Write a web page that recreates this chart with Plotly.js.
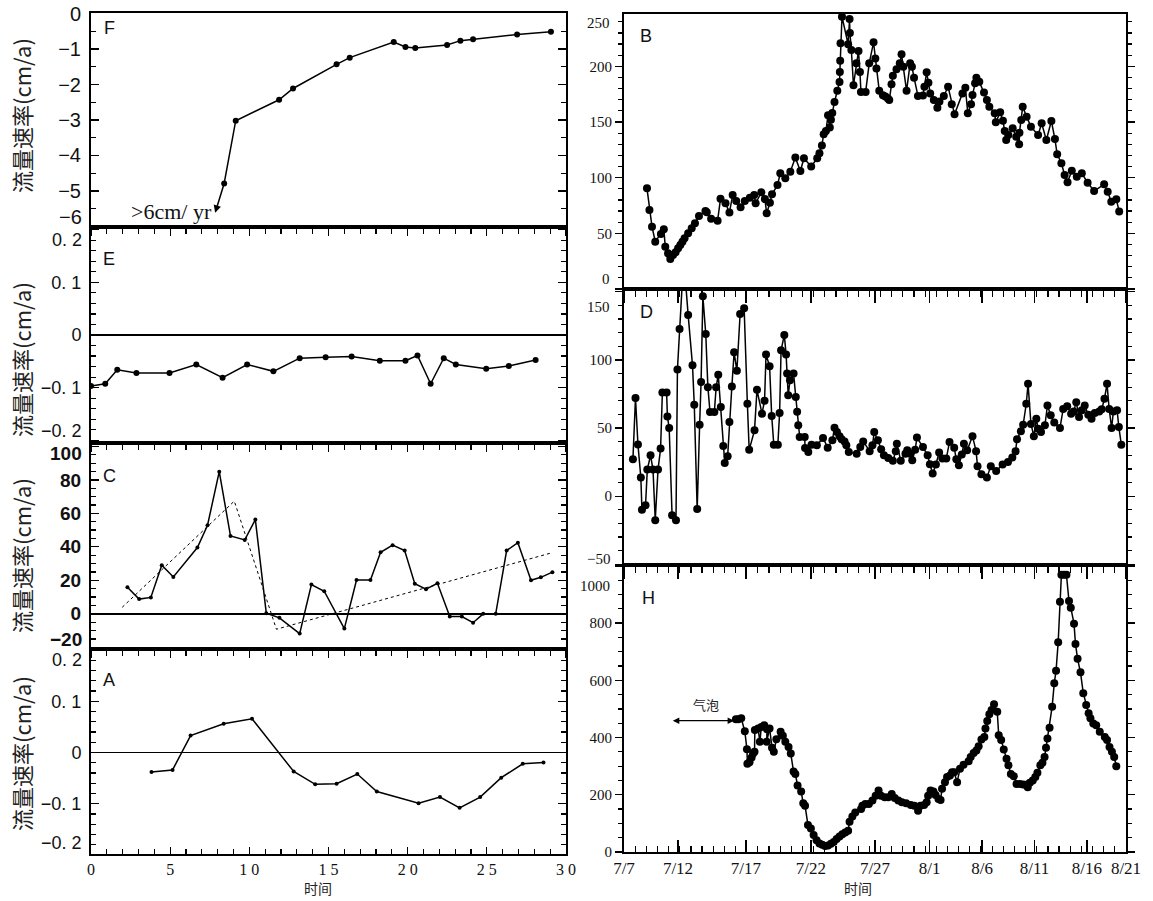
<!DOCTYPE html>
<html><head><meta charset="utf-8">
<script src="https://cdn.plot.ly/plotly-3.0.1.min.js"></script>
<style>html,body{margin:0;padding:0;background:#fff}#chart{width:1153px;height:901px}</style>
</head><body><div id="chart"></div>
<script>
// ---------- Left column (time 0-30) ----------
// Panel F (first point = arrow tip ">6cm/yr")
const fTime = [7.84, 8.41, 9.14, 11.88, 12.76, 15.51, 16.34, 19.12, 19.86, 20.48, 22.49, 23.33, 24.13, 26.91, 29.05];
const fRate = [-5.62, -4.79, -3.02, -2.43, -2.11, -1.43, -1.24, -0.80, -0.94, -0.97, -0.88, -0.76, -0.72, -0.59, -0.51];
// Panel E
const eTime = [0, 0.9, 1.66, 2.87, 4.96, 6.65, 8.31, 9.86, 11.52, 13.18, 14.82, 16.46, 18.24, 19.86, 20.62, 21.45, 22.28, 23.04, 24.96, 26.39, 28.08];
const eRate = [-0.097, -0.0925, -0.066, -0.072, -0.072, -0.056, -0.081, -0.056, -0.069, -0.044, -0.042, -0.041, -0.049, -0.049, -0.039, -0.0925, -0.044, -0.056, -0.064, -0.059, -0.0475];
// Panel C
const cTime = [2.3, 3.04, 3.78, 4.47, 5.2, 6.72, 7.36, 8.1, 8.81, 9.71, 10.38, 11.07, 11.9, 13.18, 13.92, 14.73, 16.0, 16.77, 17.65, 18.29, 19.05, 19.81, 20.45, 21.16, 21.88, 22.66, 23.42, 24.13, 24.77, 25.56, 26.25, 26.96, 27.79, 28.41, 29.14];
const cRate = [15.9, 8.8, 9.8, 29.0, 22.0, 39.6, 52.9, 84.9, 46.5, 44.1, 56.3, 0.4, -2.4, -11.8, 17.5, 13.5, -8.8, 20.2, 20.2, 36.7, 41.0, 37.8, 18.0, 14.7, 18.2, -1.6, -1.6, -5.3, 0, 0, 37.8, 42.5, 20.0, 21.8, 24.9];
const cTrendTime = [1.97, 9.05, 11.71, 29.05];
const cTrendRate = [3.9, 67.3, -9.2, 36.3];
// Panel A
const aTime = [3.82, 5.15, 6.29, 8.38, 10.17, 12.8, 14.16, 15.51, 16.82, 18.05, 20.69, 22.04, 23.28, 24.58, 25.91, 27.27, 28.58];
const aRate = [-0.038, -0.034, 0.033, 0.056, 0.066, -0.037, -0.062, -0.061, -0.042, -0.076, -0.099, -0.087, -0.108, -0.087, -0.049, -0.022, -0.0195];
const leftTickVals = [0, 5, 10, 15, 20, 25, 30];
const leftTickText = ['0', '5', '1\u00a00', '1\u00a05', '2\u00a00', '2\u00a05', '3\u00a00'];
const smallTickVals = [-0.2, -0.1, 0, 0.1, 0.2];
const smallTickText = ['\u22120.\u00a02', '\u22120.\u00a01', '0', '0.\u00a01', '0.\u00a02'];
const fTickVals = [0, -1, -2, -3, -4, -5, -6];
const cTickVals = [-20, 0, 20, 40, 60, 80, 100];

// ---------- Right column (dates, axis position in days from 7/7 as drawn) ----------
const dateTickPos = [0, 4.84, 10.93, 16.76, 22.5, 27.4, 32.1, 36.8, 41.5, 45];
const dateTickText = ['7/7', '7/12', '7/17', '7/22', '7/27', '8/1', '8/6', '8/11', '8/16', '8/21'];
const bTickVals = [0, 50, 100, 150, 200, 250];
const dTickVals = [-50, 0, 50, 100, 150];
const hTickVals = [0, 200, 400, 600, 800, 1000];
// Panel B
const bDay = [2.06,2.28,2.51,2.8,3.31,3.57,3.70,3.95,4.15,4.40,4.63,4.85,5.05,5.24,5.43,5.75,6.07,6.36,6.72,7.30,7.42,7.81,8.39,8.65,9.1,9.45,9.74,10.06,10.45,10.83,11.28,11.67,11.8,12.31,12.63,12.79,13.08,13.27,13.76,14.01,14.46,14.91,15.36,15.81,16.13,16.78,17.32,17.52,17.74,17.9,18.1,18.29,18.45,18.55,18.67,18.87,19.12,19.32,19.35,19.38,19.41,19.54,20.09,20.22,20.25,20.38,20.57,20.83,21.02,21.15,21.24,21.66,21.98,22.37,22.53,22.63,22.88,23.21,23.43,23.66,23.78,23.98,24.1,24.43,24.72,24.88,25.04,25.33,25.65,25.81,26.0,26.35,26.8,26.93,27.13,27.29,27.45,27.77,28.09,28.28,28.67,29.05,29.38,29.63,30.34,30.6,30.82,31.11,31.24,31.47,31.59,31.85,32.27,32.53,32.75,33.23,33.33,33.72,33.97,34.13,34.26,34.45,34.84,35.16,35.42,35.45,35.61,35.74,36.09,36.48,37.12,37.44,37.86,38.31,38.63,38.83,39.21,39.5,39.76,40.14,40.59,41.04,41.56,42.14,43.04,43.36,43.68,44.13,44.39];
const bVal = [90.4,71,56,42.5,49.4,53.6,38,32,27,30.5,33,36.5,39.5,42.5,45.5,50,54.5,59,65.6,70,69,63,61.4,81,77,68.6,84.4,79,73.4,79,82,84.4,77,86.8,80.8,68,77.5,85,93.4,104,99.4,105.4,118,106,117.4,110,117.4,122,129,139,142,156,145,152,158,168,178,186,195,205,220.7,244.6,219.8,242.5,230,214.7,183,202.7,213.8,195,177,177,202.7,221.6,207,198,178,174,172.8,171,169.8,183.8,191.6,197.3,202.7,210.8,199.7,178,202.7,199.7,189.8,173.4,173.7,181.7,194.6,185.3,175.7,169.8,162.9,168.3,173.4,181.7,165.9,156.9,175.7,180.8,157.8,165.9,174.3,184.7,189.8,186.2,176.6,169.8,163.8,157.8,149.7,158.7,151.2,141.9,133.8,138.3,144.3,136.8,129.9,140.4,151.8,163.8,154.8,145.8,138.3,148.8,133.8,150.9,134.7,121,112.9,102.4,95.8,106.3,100.9,103.9,95.5,88,94,87.4,78.4,80.5,69.5];
// Panel D
const dDay = [0.80,1.03,1.25,1.51,1.61,1.93,2.09,2.38,2.6,2.8,3.05,3.28,3.44,3.82,3.89,4.05,4.31,4.66,4.79,4.98,5.35,5.75,6.14,6.3,6.56,6.78,6.91,7.07,7.33,7.52,7.71,8.1,8.26,8.45,8.68,8.9,9.03,9.29,9.45,9.67,9.87,10.12,10.41,10.77,11.06,11.22,11.7,11.92,12.37,12.6,12.73,13.05,13.24,13.43,13.79,13.95,14.08,14.37,14.53,14.62,14.72,14.88,15.2,15.4,15.52,15.62,15.75,16.2,16.23,16.52,16.81,17.29,17.84,18.26,18.68,18.87,19.09,19.32,19.51,19.77,19.93,20.15,20.86,21.18,21.44,22.02,22.27,22.43,22.76,23.05,23.3,23.69,24.1,24.36,24.46,24.81,25.23,25.39,25.65,25.84,26.1,26.26,26.8,27.22,27.42,27.67,27.96,28.25,28.54,28.89,29.18,29.6,29.79,30.02,30.28,30.47,30.76,31.24,31.56,31.69,32.04,32.53,32.88,33.36,33.94,34.42,34.81,35.1,35.23,35.58,35.78,36.06,36.22,36.48,36.74,36.96,37.12,37.38,37.73,37.96,38.25,38.57,39.08,39.37,39.73,40.08,40.31,40.54,40.79,41.04,41.3,41.62,41.91,42.2,42.6,42.82,43.07,43.3,43.49,43.71,43.87,44.2,44.36,44.58];
const dVal = [27,72,38,13.7,-10,-6.6,19.5,30,19.5,-17.6,19.5,35,76,76,58.5,50,-14,-17.6,93,122.7,175,133,96,67,-9.5,52.4,83.7,146.6,119,80,61.7,61.7,80,89,65.4,36.8,24.4,29.3,54.4,80.5,105.6,92,133.7,137.8,67.8,34,48.3,78,60.5,70,104,95.4,58.8,37.8,37.8,61,107,118.3,104,90,74,85,90,72.7,62,52,43.4,43.4,35.4,32.4,37.8,37.3,42.7,35.6,41,50.2,47,44,41.7,40.2,37.3,32.4,31.2,36,40.2,33,37.3,47,41,34.4,30,28,25.9,33,38.5,25.9,31.2,33.7,31.2,26.3,34,43,36,30,23.4,16.6,23.2,32,27.6,27.6,39.8,35.6,27,22.7,30.5,38.5,33.7,44,33,22,16,13.7,22,18.5,23.2,25,28.3,33,41.7,47.6,52.4,67.8,82.4,53,44,56.8,49.5,47,52,66.6,59.3,54,50,64,66,60.5,62.2,69,58,63,66.6,59.8,56.8,61,62.2,63.7,71.5,82.4,64,50,62.2,63,50.7,37.8];
// Panel H
const hDay = [10.03,10.25,10.51,10.83,11.02,11.06,11.25,11.44,11.57,11.7,11.73,12.02,12.18,12.31,12.57,12.82,12.79,13.05,13.27,13.43,13.66,14.04,14.24,14.46,14.75,14.95,15.2,15.36,15.56,15.88,16.07,16.23,16.49,16.75,17.0,17.26,17.52,17.77,18.03,18.29,18.55,18.8,19.06,19.32,19.57,19.83,20.09,20.22,20.47,20.73,21.25,21.37,21.63,21.95,22.27,22.56,22.82,23.04,23.37,23.69,24.0,24.27,24.59,24.91,25.29,25.71,26.03,26.36,26.58,26.9,27.13,27.26,27.48,27.74,27.93,28.19,28.38,28.51,28.77,28.96,29.22,29.41,29.6,29.86,30.12,30.44,30.89,31.08,31.34,31.59,31.79,32.04,32.3,32.4,32.56,32.75,32.95,33.17,33.46,33.59,33.81,34.04,34.29,34.46,34.68,34.94,35.19,35.48,35.77,36.03,36.19,36.38,36.64,36.87,37.06,37.32,37.51,37.7,37.83,37.96,38.15,38.38,38.57,38.73,38.92,39.08,39.21,39.44,39.66,39.89,40.05,40.34,40.47,40.66,40.92,41.17,41.43,41.65,41.81,42.07,42.33,42.65,43.1,43.3,43.52,43.74,43.94,44.13];
const hVal = [464,464,467,422,359,308,314,330,344,350,426,432,385,437,443,429,385,432,364,350,394,420,406,385,367,344,281,273,232,211,170,162,94,82,59,41,30,25,21,23,29,35,45,54,62,68,74,106,124,138,150,162,168,168,180,197,215,197,191,191,203,189,180,174,170,164,162,144,162,164,174,197,215,211,199,185,182,221,244,262,267,279,279,244,291,305,317,332,346,355,370,393,402,432,458,481,496,516,490,408,391,358,326,303,273,265,238,238,236,235,226,242,250,262,277,303,312,332,364,397,434,508,590,633,733,875,969,969,969,877,854,798,727,675,628,555,514,485,467,449,443,420,402,391,367,350,332,300];
// "气泡" arrow span (days) and level
const bubbleSpan = [4.24, 9.87];
const bubbleLevel = 459;

// ---------- geometry ----------
const W = 1153, H = 901;
const px = v => v / W, py = v => 1 - v / H;
const leftDom = [px(91), px(566)], rightDom = [px(624), px(1126)];
const panels = {
  F: [py(227), py(13)], E: [py(443), py(227)], C: [py(649), py(443)], A: [py(854), py(649)],
  B: [py(289), py(14)], D: [py(565), py(289)], Hh: [py(852), py(565)]
};
const lineStyle = {color: '#000', width: 1.5};
const sans = 'Liberation Sans, Arial, sans-serif';
const serif = 'Liberation Serif, Times New Roman, serif';
const cjk = 'Noto Sans CJK SC, sans-serif';
const fontF = {family: sans, size: 20, color: '#111'};
const fontSmall = {family: sans, size: 18, color: '#111'};
const fontC = {family: sans, size: 19, color: '#111', weight: 'bold'};
const fontR = {family: serif, size: 15, color: '#111'};
const minus = v => (v < 0 ? '\u2212' + Math.abs(v) : String(v));

function leftX(anchor, last) {
  return {domain: leftDom, anchor: anchor, range: [0, 30], showline: true, mirror: true,
    linecolor: '#000', linewidth: 2, showgrid: false, zeroline: false,
    tickmode: 'array', tickvals: leftTickVals, ticktext: leftTickText,
    ticks: last ? 'inside' : 'outside', ticklen: 7, tickwidth: 1.3, tickcolor: '#000',
    minor: {tickmode: 'linear', tick0: 0, dtick: 1, ticks: last ? 'inside' : 'outside', ticklen: 5, tickwidth: 1.2, tickcolor: '#000'},
    showticklabels: !!last, tickfont: {family: serif, size: 16, color: '#111'}, ticklabelstandoff: 0};
}
function rightX(anchor, last) {
  return {domain: rightDom, anchor: anchor, range: [0, 45], showline: true, mirror: true,
    linecolor: '#000', linewidth: 2, showgrid: false, zeroline: false,
    tickmode: 'array', tickvals: dateTickPos, ticktext: dateTickText,
    ticks: last ? 'inside' : 'outside', ticklen: 12, tickwidth: 1.3, tickcolor: '#000',
    minor: {tickmode: 'linear', tick0: 0, dtick: 1, ticks: last ? 'inside' : 'outside', ticklen: 6, tickwidth: 1.2, tickcolor: '#000'},
    showticklabels: !!last, tickfont: {family: serif, size: 17, color: '#111'}, ticklabelstandoff: 0};
}
function leftY(anchor, dom, range, vals, text, minorDt, font, zero) {
  return {domain: dom, anchor: anchor, range: range, showline: true, mirror: 'ticks',
    linecolor: '#000', linewidth: 2, showgrid: false,
    zeroline: zero, zerolinecolor: '#000', zerolinewidth: 1.6,
    tickmode: 'array', tickvals: vals, ticktext: text,
    ticks: 'inside', ticklen: 8, tickwidth: 1.3, tickcolor: '#000',
    minor: {tickmode: 'linear', tick0: 0, dtick: minorDt, ticks: 'inside', ticklen: 5, tickwidth: 1.2, tickcolor: '#000'},
    tickfont: font, ticklabelstandoff: 4};
}
function rightY(anchor, dom, range, vals, text, minorDt) {
  return {domain: dom, anchor: anchor, range: range, showline: true, mirror: 'ticks',
    linecolor: '#000', linewidth: 2, showgrid: false, zeroline: false,
    tickmode: 'array', tickvals: vals, ticktext: text,
    ticks: 'outside', ticklen: 7, tickwidth: 1.3, tickcolor: '#000',
    minor: {tickmode: 'linear', tick0: 0, dtick: minorDt, ticks: 'outside', ticklen: 4, tickwidth: 1.2, tickcolor: '#000'},
    tickfont: fontR};
}
// labels at a panel edge are drawn separately (below), shifted inward as in the figure
const blankEdges = (vals, text, edges) => vals.map((v, i) => edges.includes(v) ? '' : text[i]);

const layout = {
  width: W, height: H, margin: {l: 0, r: 0, t: 0, b: 0},
  paper_bgcolor: '#fff', plot_bgcolor: '#fff', showlegend: false,
  xaxis: leftX('y', false),
  yaxis: leftY('x', panels.F, [-6.02, 0.02], fTickVals, blankEdges(fTickVals, fTickVals.map(minus), [-6]), 0.5, fontF, false),
  xaxis2: leftX('y2', false),
  yaxis2: leftY('x2', panels.E, [-0.205, 0.205], smallTickVals, blankEdges(smallTickVals, smallTickText, [0.2, -0.2]), 0.02, fontSmall, true),
  xaxis3: leftX('y3', false),
  yaxis3: leftY('x3', panels.C, [-21, 102], cTickVals, blankEdges(cTickVals, cTickVals.map(minus), [100, -20]), 5, fontC, true),
  xaxis4: leftX('y4', true),
  yaxis4: leftY('x4', panels.A, [-0.198, 0.202], smallTickVals, blankEdges(smallTickVals, smallTickText, [0.2, -0.2]), 0.02, fontSmall, true),
  xaxis5: rightX('y5', false),
  yaxis5: rightY('x5', panels.B, [0, 247], bTickVals, blankEdges(bTickVals, bTickVals.map(String), [0, 250]), 10),
  xaxis6: rightX('y6', false),
  yaxis6: rightY('x6', panels.D, [-50.5, 152], dTickVals, blankEdges(dTickVals, dTickVals.map(minus), [150, -50]), 10),
  xaxis7: rightX('y7', true),
  yaxis7: rightY('x7', panels.Hh, [0, 1003], hTickVals, blankEdges(hTickVals, hTickVals.map(String), [1000]), 50),
  annotations: []
};
const ann = layout.annotations;
const edgeLabel = (text, xRight, yc, font) => ann.push({text: text, xref: 'paper', yref: 'paper', x: px(xRight), y: py(yc), showarrow: false, xanchor: 'right', yanchor: 'middle', font: font});
edgeLabel(minus(fTickVals[6]), 84, 217, fontF);
edgeLabel(smallTickText[4], 84, 240, fontSmall);
edgeLabel(smallTickText[0], 84, 431, fontSmall);
edgeLabel(minus(cTickVals[6]), 84, 453, fontC);
edgeLabel(minus(cTickVals[0]), 84, 639, fontC);
edgeLabel(smallTickText[4], 84, 660, fontSmall);
edgeLabel(smallTickText[0], 84, 843, fontSmall);
edgeLabel(String(bTickVals[5]), 612, 23, fontR);
edgeLabel(String(bTickVals[0]), 612, 279, fontR);
edgeLabel(minus(dTickVals[4]), 612, 307, fontR);
edgeLabel(minus(dTickVals[0]), 612, 559, fontR);
edgeLabel(String(hTickVals[5]), 612, 586, fontR);

const panelLabel = (t, x, y) => ann.push({text: t, xref: 'paper', yref: 'paper', x: px(x), y: py(y), showarrow: false, xanchor: 'left', yanchor: 'middle', font: {family: sans, size: 18, color: '#111'}});
panelLabel('F', 102, 28); panelLabel('E', 101, 259); panelLabel('C', 101, 476); panelLabel('A', 101, 680);
panelLabel('B', 638, 36); panelLabel('D', 638, 312); panelLabel('H', 640, 598);
const yTitle = yc => ann.push({text: '流量速率(cm/a)', xref: 'paper', yref: 'paper', x: px(21), y: py(yc), showarrow: false, textangle: -90, xanchor: 'center', yanchor: 'middle', font: {family: cjk, size: 22, color: '#222'}});
yTitle(116); yTitle(360); yTitle(556); yTitle(754);
ann.push({text: '时间', xref: 'paper', yref: 'paper', x: px(318), y: py(888), showarrow: false, xanchor: 'center', yanchor: 'middle', borderpad: 0, font: {family: cjk, size: 14, color: '#222'}});
ann.push({text: '时间', xref: 'paper', yref: 'paper', x: px(858), y: py(888), showarrow: false, xanchor: 'center', yanchor: 'middle', borderpad: 0, font: {family: cjk, size: 14, color: '#222'}});
// F arrow to off-scale value
ann.push({xref: 'x', yref: 'y', axref: 'x', ayref: 'y', x: fTime[0], y: fRate[0], ax: fTime[1], ay: fRate[1], showarrow: true, arrowhead: 2, arrowsize: 1, arrowwidth: 1.5, arrowcolor: '#000', text: ''});
ann.push({xref: 'x', yref: 'y', x: fTime[0] - 0.05, y: -5.57, text: '>6cm/\u00a0yr', showarrow: false, xanchor: 'right', yanchor: 'middle', font: {family: serif, size: 22, color: '#111'}});
// H bubble arrow
ann.push({xref: 'x7', yref: 'y7', axref: 'x7', ayref: 'y7', x: bubbleSpan[1], y: bubbleLevel, ax: bubbleSpan[0], ay: bubbleLevel, showarrow: true, arrowhead: 2, startarrowhead: 2, arrowside: 'end+start', arrowsize: 1, arrowwidth: 1.3, arrowcolor: '#000', text: ''});
ann.push({xref: 'x7', yref: 'y7', x: (bubbleSpan[0] + bubbleSpan[1]) / 2 + 0.3, y: bubbleLevel + 55, text: '气泡', showarrow: false, yanchor: 'middle', font: {family: cjk, size: 13, color: '#222'}});

const mk = (size) => ({color: '#000', size: size});
const traces = [
  {x: fTime.slice(1), y: fRate.slice(1), xaxis: 'x', yaxis: 'y', mode: 'lines+markers', line: lineStyle, marker: mk(6)},
  {x: eTime, y: eRate, xaxis: 'x2', yaxis: 'y2', mode: 'lines+markers', line: lineStyle, marker: mk(6)},
  {x: cTrendTime, y: cTrendRate, xaxis: 'x3', yaxis: 'y3', mode: 'lines', line: {color: '#000', width: 1, dash: 'dot'}},
  {x: cTime, y: cRate, xaxis: 'x3', yaxis: 'y3', mode: 'lines+markers', line: lineStyle, marker: mk(4)},
  {x: aTime, y: aRate, xaxis: 'x4', yaxis: 'y4', mode: 'lines+markers', line: lineStyle, marker: mk(4)},
  {x: bDay, y: bVal, xaxis: 'x5', yaxis: 'y5', mode: 'lines+markers', line: lineStyle, marker: mk(8)},
  {x: dDay, y: dVal, xaxis: 'x6', yaxis: 'y6', mode: 'lines+markers', line: lineStyle, marker: mk(8)},
  {x: hDay, y: hVal, xaxis: 'x7', yaxis: 'y7', mode: 'lines+markers', line: lineStyle, marker: mk(8)}
];
Plotly.newPlot('chart', traces, layout, {displayModeBar: false, staticPlot: true});
</script></body></html>
